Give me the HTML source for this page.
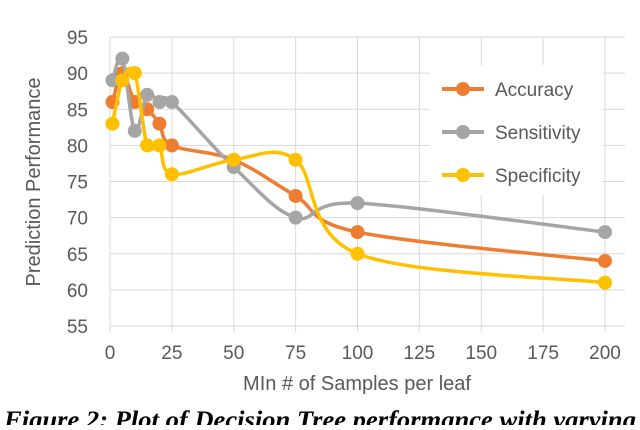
<!DOCTYPE html>
<html><head><meta charset="utf-8"><style>
body{margin:0;background:#fff;width:640px;height:425px;overflow:hidden}
svg text{font-family:"Liberation Sans",sans-serif}
</style></head><body>
<svg width="640" height="425" id="c">
<g id="grid"></g>
<g id="series"></g>
<g id="axes"></g>
<text x="40" y="182" transform="rotate(-90 40 182)" text-anchor="middle" font-size="20" fill="#595959">Prediction Performance</text>
<text x="357" y="390" text-anchor="middle" font-size="20" fill="#595959">MIn # of Samples per leaf</text>
<g>
<rect x="430" y="65" width="172" height="130" fill="#fff"/>
<g><line x1="442" y1="89" x2="484" y2="89" stroke="#ED7D31" stroke-width="4"/><circle cx="463" cy="89" r="7" fill="#ED7D31"/><text x="495" y="96" font-size="19" fill="#595959">Accuracy</text></g>
<g><line x1="442" y1="132" x2="484" y2="132" stroke="#A5A5A5" stroke-width="4"/><circle cx="463" cy="132" r="7" fill="#A5A5A5"/><text x="495" y="139" font-size="19" fill="#595959">Sensitivity</text></g>
<g><line x1="442" y1="175" x2="484" y2="175" stroke="#FFC000" stroke-width="4"/><circle cx="463" cy="175" r="7" fill="#FFC000"/><text x="495" y="182" font-size="19" fill="#595959">Specificity</text></g>
</g>
<text x="4" y="428" font-size="25" font-weight="bold" font-style="italic" textLength="632" lengthAdjust="spacingAndGlyphs" style="font-family:'Liberation Serif',serif" fill="#000">Figure 2: Plot of Decision Tree performance with varying</text>
</svg>
<script>
const xValues=[1,5,10,15,20,25,50,75,100,200];
const accuracy=[86,90,86,85,83,80,78,73,68,64];
const sensitivity=[89,92,82,87,86,86,77,70,72,68];
const specificity=[83,89,90,80,80,76,78,78,65,61];
const xTicks=[0,25,50,75,100,125,150,175,200];
const yTicks=[55,60,65,70,75,80,85,90,95];
const NS="http://www.w3.org/2000/svg";
const X=v=>110+v*(605-110)/200;
const Y=v=>326-(v-55)*(326-37)/40;
function mk(t,a,p){const e=document.createElementNS(NS,t);for(const k in a)e.setAttribute(k,a[k]);p.appendChild(e);return e;}
const g=document.getElementById('grid'),ax=document.getElementById('axes'),s=document.getElementById('series');
yTicks.forEach(v=>{const l=mk('line',{x1:110,x2:625,y1:Y(v),y2:Y(v),stroke:'#D9D9D9','stroke-width':1},g);


const t=mk('text',{x:88,y:Y(v)+7,'text-anchor':'end','font-size':19,fill:'#595959'},ax);t.textContent=v;

});
xTicks.forEach(v=>{const l=mk('line',{x1:X(v),x2:X(v),y1:37,y2:332,stroke:'#D9D9D9','stroke-width':1},g);


const t=mk('text',{x:X(v),y:359,'text-anchor':'middle','font-size':19,fill:'#595959'},ax);t.textContent=v;

});
function path(pts){let d=`M${pts[0][0]},${pts[0][1]}`;const k=0.5/3*2;
for(let i=0;i<pts.length-1;i++){const p0=pts[i-1]||pts[i],p1=pts[i],p2=pts[i+1],p3=pts[i+2]||p2;
const c1=[p1[0]+(p2[0]-p0[0])*k/2,p1[1]+(p2[1]-p0[1])*k/2],c2=[p2[0]-(p3[0]-p1[0])*k/2,p2[1]-(p3[1]-p1[1])*k/2];
d+=`C${c1[0]},${c1[1]} ${c2[0]},${c2[1]} ${p2[0]},${p2[1]}`;}return d;}
[['accuracy',accuracy,'#ED7D31'],['sensitivity',sensitivity,'#A5A5A5'],['specificity',specificity,'#FFC000']].forEach(([n,vals,c])=>{
const grp=mk('g',{},s);


const pts=vals.map((v,i)=>[X(xValues[i]),Y(v)]);
const p=mk('path',{d:path(pts),fill:'none',stroke:c,'stroke-width':3.5},grp);


pts.forEach(q=>{const m=mk('circle',{cx:q[0],cy:q[1],r:7,fill:c},grp);

});});
</script>
</body></html>
